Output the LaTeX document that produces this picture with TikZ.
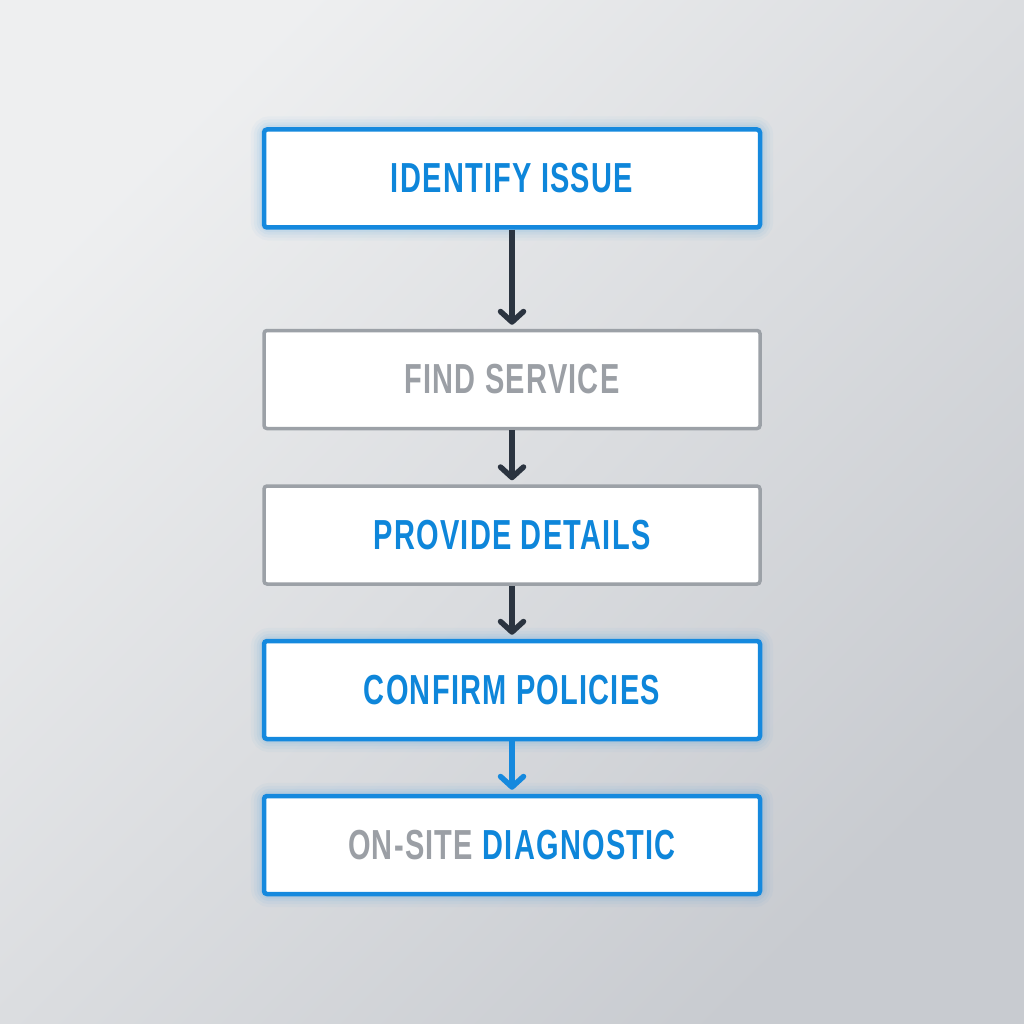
\documentclass[tikz,border=0pt]{standalone}
\usepackage{fontspec}
\usetikzlibrary{arrows.meta}
\newfontfamily\labfont{Liberation Sans}[FakeStretch=0.69, LetterSpace=3]
\definecolor{bgA}{HTML}{EEEFF0}
\definecolor{bgD}{HTML}{C8CBD0}
\definecolor{bluec}{HTML}{1589DE}
\definecolor{bluet}{HTML}{0E86DA}
\definecolor{greyb}{HTML}{9CA1A7}
\definecolor{greyt}{HTML}{9B9FA5}
\definecolor{darkarr}{HTML}{2B3440}
\tikzset{
  x=1pt, y=-1pt,
  stepbox/.style={rectangle, rounded corners=3pt, fill=white, minimum width=496pt, minimum height=98pt, inner sep=0pt,
    font=\labfont\bfseries\fontsize{42}{50}\selectfont},
  bluebox/.style={stepbox, draw=bluec, line width=4.5pt, text=bluet},
  greybox/.style={stepbox, draw=greyb, line width=3.5pt, text=greyt},
  flow/.style={line width=5.5pt, -{Straight Barb[length=10.5pt, width=23pt, line cap=round, line join=round]}},
}
\newcommand{\glowbox}[1]{%
  \foreach \w/\o in {26/0.03,20/0.04,14/0.05,9/0.06}{%
    \draw[bluec, line width=\w pt, opacity=\o, rounded corners=6pt] (#1.north west) rectangle (#1.south east);}}
\begin{document}
\begin{tikzpicture}
\useasboundingbox (0,0) rectangle (1024,1024);
\shade[top color=bgA, bottom color=bgD, shading angle=45] (0,0) rectangle (1024,1024);
\coordinate (c1) at (512,178.5);
\coordinate (c2) at (512,379.5);
\coordinate (c3) at (512,535);
\coordinate (c4) at (512,690);
\coordinate (c5) at (512,845);
\path (c1) node[stepbox] (g1) {}; \glowbox{g1}
\path (c4) node[stepbox] (g4) {}; \glowbox{g4}
\path (c5) node[stepbox] (g5) {}; \glowbox{g5}
\node[bluebox] (n1) at (c1) {IDENTIFY ISSUE};
\node[greybox] (n2) at (c2) {FIND SERVICE};
\node[greybox, text=bluet] (n3) at (c3) {PROVIDE DETAILS};
\node[bluebox] (n4) at (c4) {CONFIRM POLICIES};
\node[bluebox] (n5) at (c5) {\textcolor{greyt}{ON-SITE} DIAGNOSTIC};
\draw[flow, darkarr] (n1.south) -- ([yshift=4pt]n2.north);
\draw[flow, darkarr] (n2.south) -- ([yshift=4pt]n3.north);
\draw[flow, darkarr] (n3.south) -- ([yshift=4pt]n4.north);
\draw[flow, bluec] (n4.south) -- ([yshift=4pt]n5.north);
\end{tikzpicture}
\end{document}
